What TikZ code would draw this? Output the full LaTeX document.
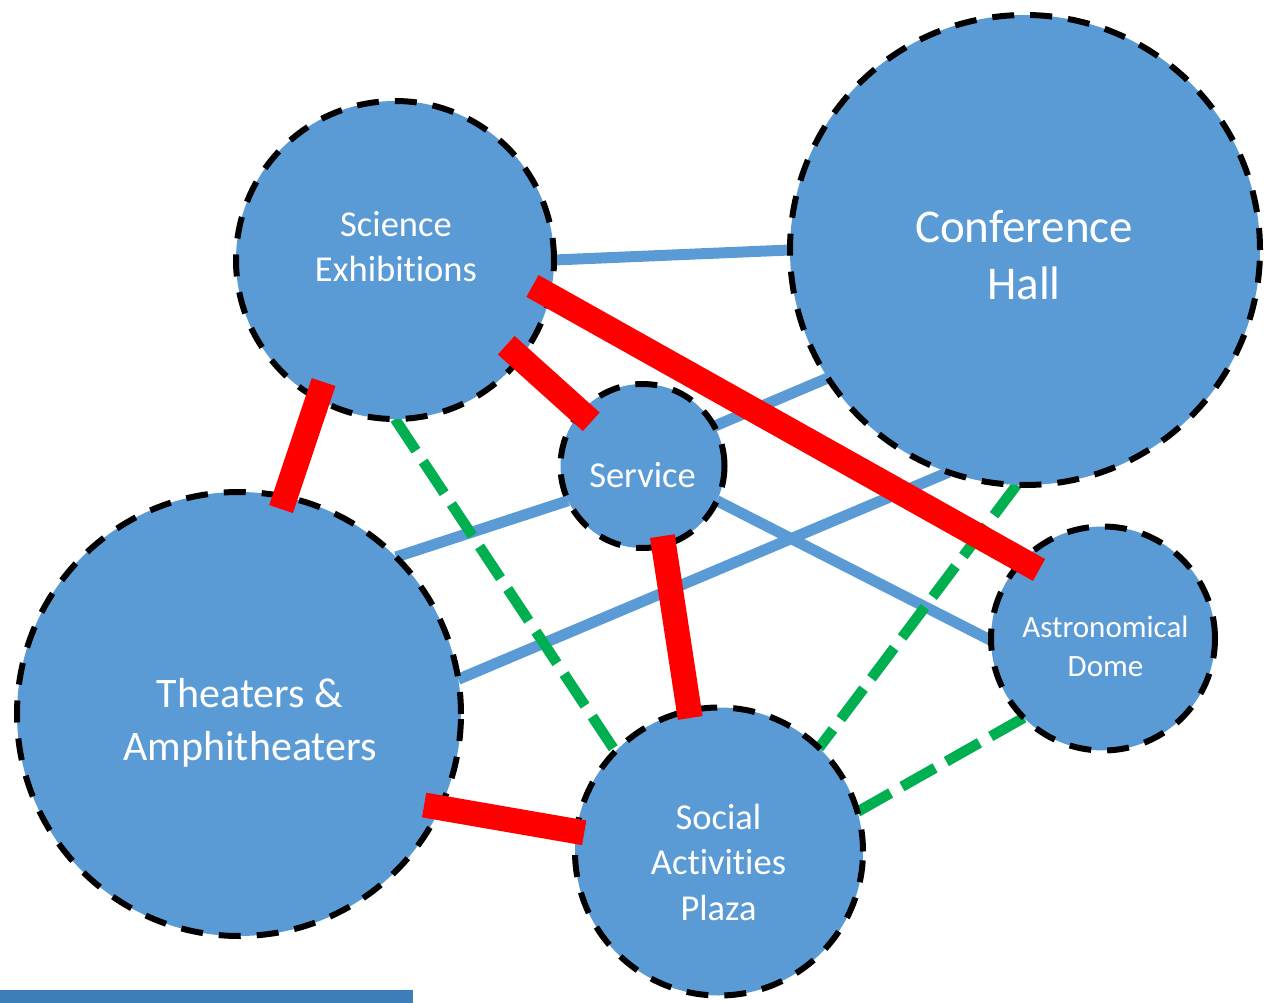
\documentclass[tikz,border=0pt]{standalone}
\usepackage{fontspec}
\setmainfont{Carlito}[RawFeature={-liga,-clig,-calt,-dlig}]
\definecolor{bubblec}{HTML}{5B9BD5}
\definecolor{linkred}{HTML}{FF0000}
\definecolor{linkgreen}{HTML}{00B050}
\definecolor{barblue}{RGB}{59,126,184}
\pgfdeclarelayer{bg}
\pgfsetlayers{bg,main}
\begin{document}
\begin{tikzpicture}[x=1pt,y=-1pt,
  bubble/.style={circle, draw=black, line width=6pt, dash pattern=on 22pt off 16pt,
    fill=bubblec, inner sep=0pt, outer sep=0pt, minimum size=#1},
  lbl/.style={text=white, align=center, inner sep=0pt},
  soft/.style={draw=bubblec, line width=11pt},
  strong/.style={draw=linkred, line width=25pt},
  weak/.style={draw=linkgreen, line width=10.5pt, dash pattern=on 38pt off 13pt}]
\useasboundingbox (0,0) rectangle (1267,1003);

% rooms
\node[bubble=318pt] (sci)  at (395,260)    {};
\node[bubble=470pt] (conf) at (1025,250)   {};
\node[bubble=164pt] (serv) at (642.5,466)  {};
\node[bubble=444pt] (thea) at (239,714)    {};
\node[bubble=288pt] (soc)  at (719,851.5)  {};
\node[bubble=224pt] (ast)  at (1103,638.5) {};

% weaker links, behind the rooms
\begin{pgfonlayer}{bg}
\draw[soft] (sci.0) -- (conf.180);
\draw[soft] (thea.45.4) -- (serv.205.5);
\draw[soft] (thea.9.5) -- (conf.251);
\draw[soft] (serv.29) -- (conf.213.2);
\draw[soft] (serv.335.8) -- (ast.181.7);
\draw[weak] (sci.270.7) -- (soc.136);
\draw[weak] (conf.268.8) -- (soc.46.3);
\draw[weak] (ast.225.9) -- (soc.16.6);
\end{pgfonlayer}

% strong links, on top
\draw[strong, shorten <=-17.9pt, shorten >=-12.9pt] (sci.241.6) -- (thea.78);
\draw[strong, shorten <=-18.9pt, shorten >=-14.3pt] (sci.322.8) -- (serv.139);
\draw[strong, shorten <=-20pt, shorten >=-19pt] (sci.347.7) -- (ast.136.7);
\draw[strong, shorten <=-9.2pt, shorten >=-7.4pt] (serv.285.5) -- (soc.102.1);
\draw[strong, shorten <=-16.3pt, shorten >=-7.9pt] (thea.335.5) -- (soc.172.4);

% labels
\node[lbl, font=\fontsize{47}{57}\selectfont] (confT) at (1024,255) {Conference\\Hall};
\node[lbl, font=\fontsize{36.5}{45}\selectfont] (sciT) at (396,246.7) {Science\\Exhibit\kern0pt ions};
\node[lbl, font=\fontsize{36.5}{45}\selectfont] (servT) at (642.5,475.5) {Service};
\node[lbl, font=\fontsize{36.5}{45.5}\selectfont] (socT) at (718.5,862) {Social\\Act\kern0pt ivit\kern0pt ies\\Plaza};
\node[lbl, font=\fontsize{31}{39}\selectfont] (astT) at (1105.5,646.7) {Astronomical\\Dome};
\node[lbl, font=\fontsize{42}{53}\selectfont] (theaT) at (250,723) {Theaters \&\\Amphitheaters};

% bar at the bottom left
\fill[barblue] (0,990) rectangle (413,1003);
\end{tikzpicture}
\end{document}
